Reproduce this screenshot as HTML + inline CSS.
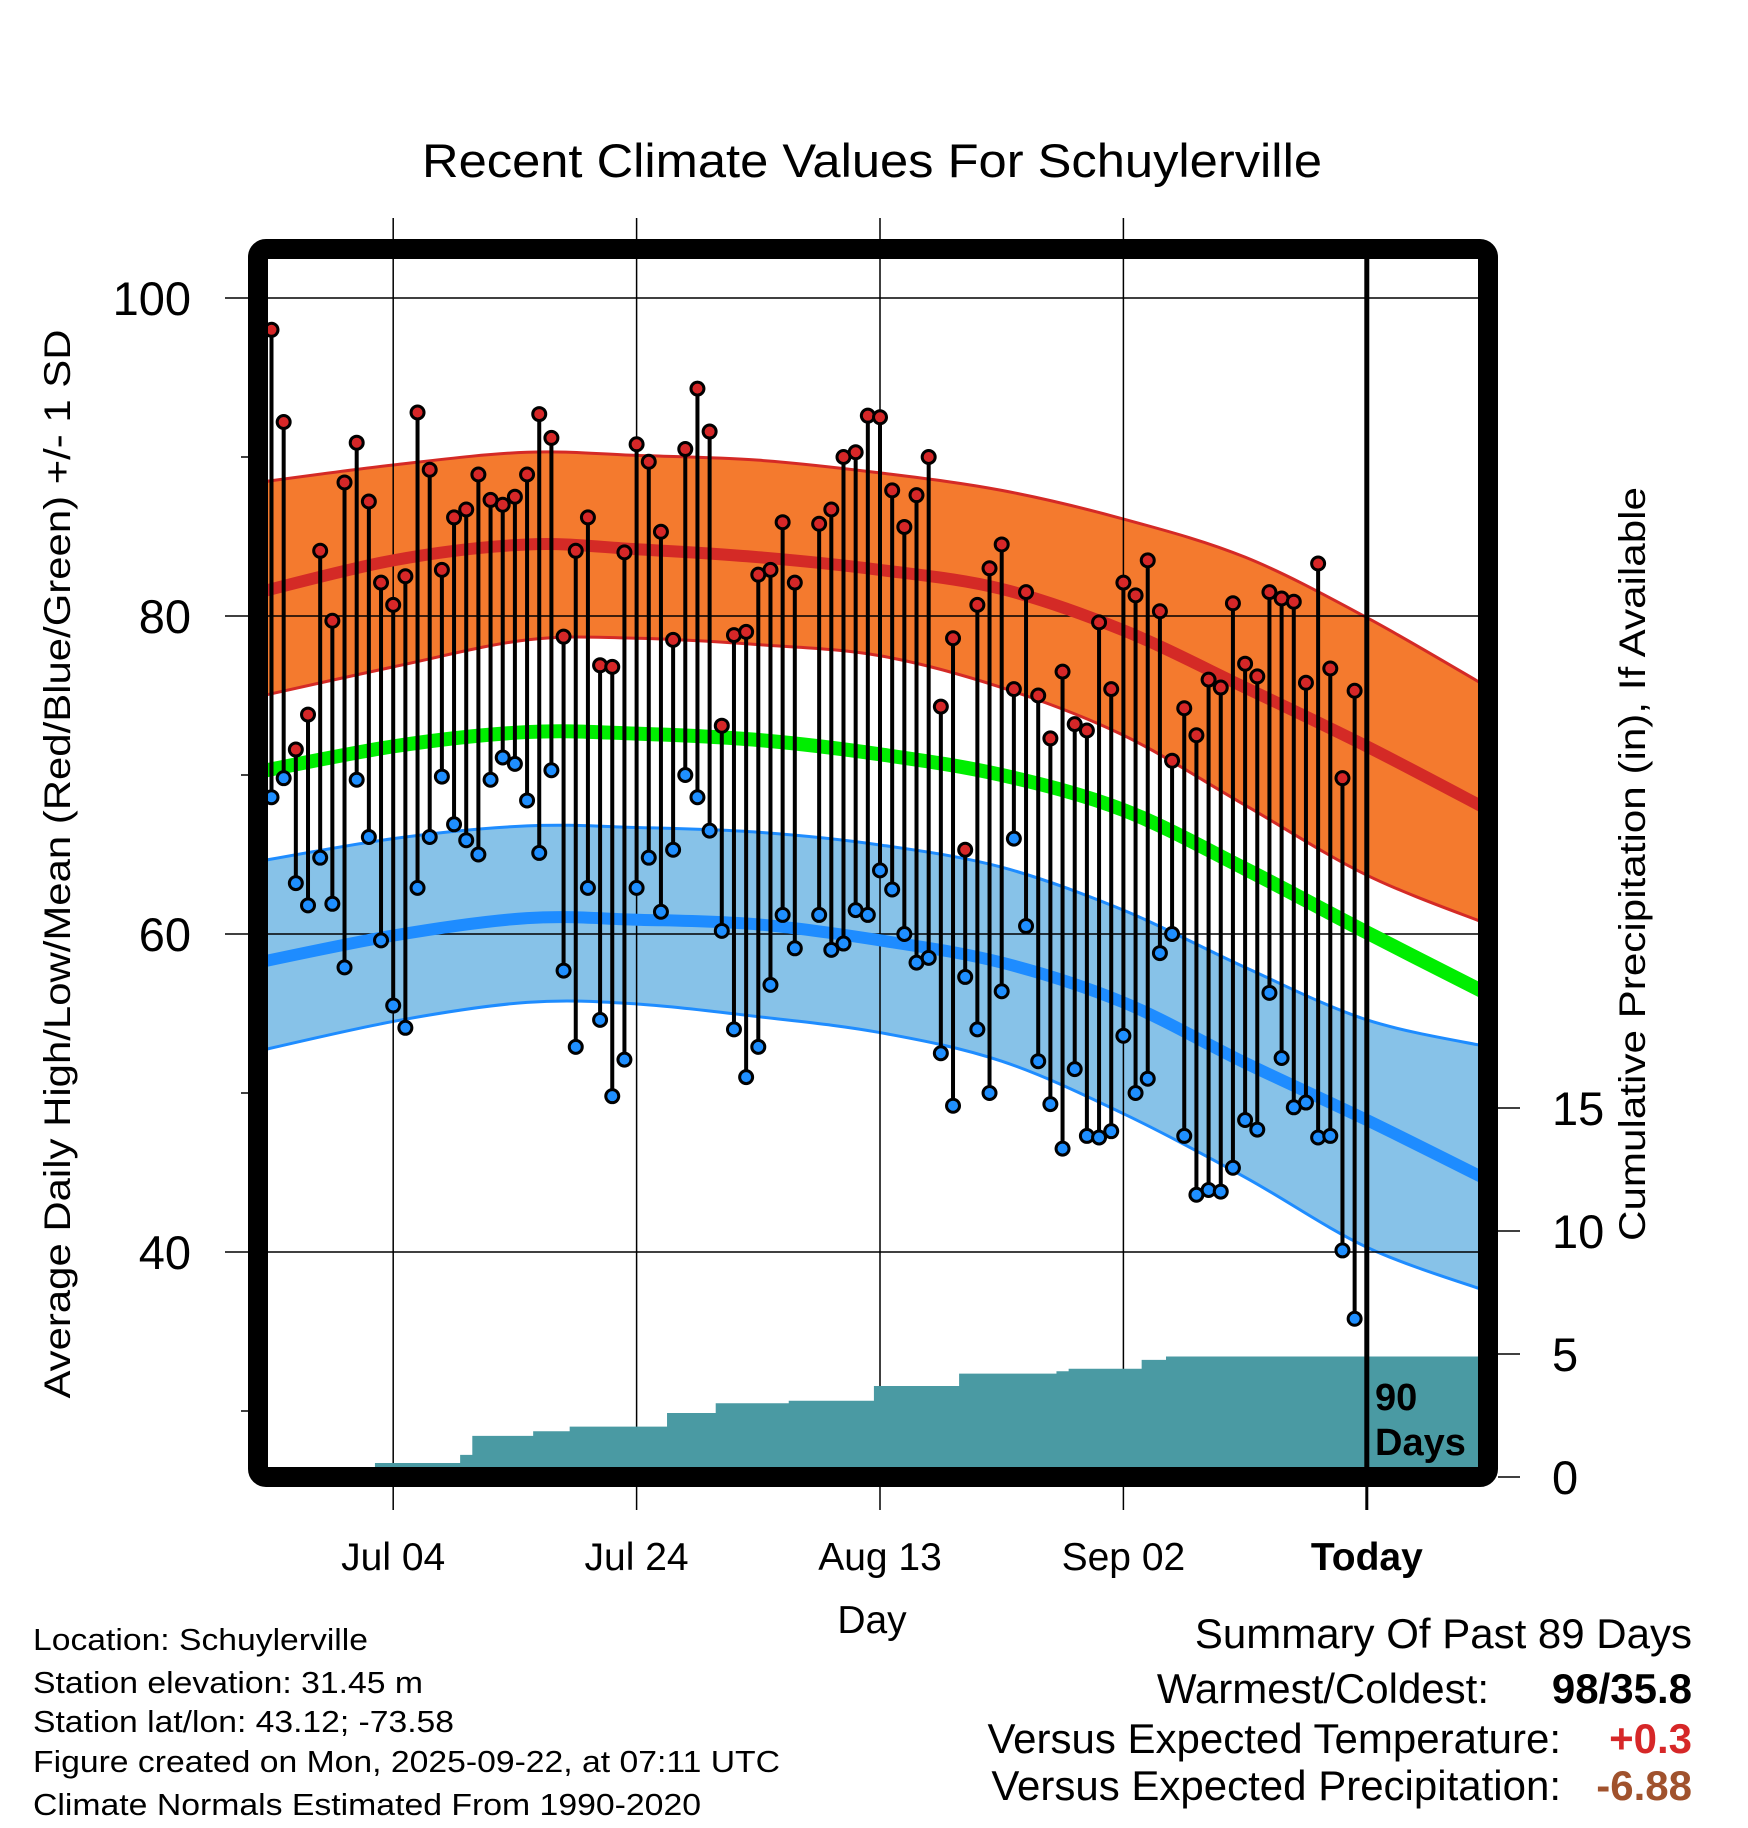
<!DOCTYPE html>
<html><head><meta charset="utf-8"><style>
html,body{margin:0;padding:0;background:#fff}
svg{display:block}
text{font-family:"Liberation Sans",sans-serif}
</style></head><body>
<svg id="chart" width="1748" height="1828" viewBox="0 0 1748 1828" xmlns="http://www.w3.org/2000/svg">
<defs><clipPath id="plotclip"><rect x="268" y="259" width="1210" height="1208"/></clipPath></defs>
<text x="872" y="177" font-size="47" text-anchor="middle" textLength="900" lengthAdjust="spacingAndGlyphs">Recent Climate Values For Schuylerville</text>
<g id="plot" clip-path="url(#plotclip)"></g>
<g id="axes"></g>
<rect x="258" y="249" width="1230" height="1228" rx="8" fill="none" stroke="#000" stroke-width="20"/>
<text x="70" y="864" font-size="37" text-anchor="middle" transform="rotate(-90 70 864)" textLength="1069" lengthAdjust="spacingAndGlyphs">Average Daily High/Low/Mean (Red/Blue/Green) +/- 1 SD</text>
<text x="1645" y="864" font-size="37" text-anchor="middle" transform="rotate(-90 1645 864)" textLength="754" lengthAdjust="spacingAndGlyphs">Cumulative Precipitation (in), If Available</text>
<text x="872" y="1633" font-size="39" text-anchor="middle">Day</text>
<text x="1375" y="1410" font-size="38" font-weight="bold">90</text>
<text x="1375" y="1455" font-size="38" font-weight="bold">Days</text>
<g font-size="31">
<text x="33" y="1650" textLength="335" lengthAdjust="spacingAndGlyphs">Location: Schuylerville</text>
<text x="33" y="1693" textLength="390" lengthAdjust="spacingAndGlyphs">Station elevation: 31.45 m</text>
<text x="33" y="1732" textLength="421" lengthAdjust="spacingAndGlyphs">Station lat/lon: 43.12; -73.58</text>
<text x="33" y="1772" textLength="747" lengthAdjust="spacingAndGlyphs">Figure created on Mon, 2025-09-22, at 07:11 UTC</text>
<text x="33" y="1815" textLength="668" lengthAdjust="spacingAndGlyphs">Climate Normals Estimated From 1990-2020</text>
</g>
<g font-size="42" text-anchor="end">
<text x="1692" y="1648">Summary Of Past 89 Days</text>
<text x="1489" y="1703">Warmest/Coldest:</text>
<text x="1692" y="1703" font-weight="bold">98/35.8</text>
<text x="1561" y="1753">Versus Expected Temperature:</text>
<text x="1692" y="1753" font-weight="bold" fill="#d62728">+0.3</text>
<text x="1561" y="1800">Versus Expected Precipitation:</text>
<text x="1692" y="1800" font-weight="bold" fill="#a0522d">-6.88</text>
</g>
</svg>
<script>
const highs=[98,92.2,71.6,73.8,84.1,79.7,88.4,90.9,87.2,82.1,80.7,82.5,92.8,89.2,82.9,86.2,86.7,88.9,87.3,87.0,87.5,88.9,92.7,91.2,78.7,84.1,86.2,76.9,76.8,84.0,90.8,89.7,85.3,78.5,90.5,94.3,91.6,73.1,78.8,79.0,82.6,82.9,85.9,82.1,null,85.8,86.7,90.0,90.3,92.6,92.5,87.9,85.6,87.6,90.0,74.3,78.6,65.3,80.7,83.0,84.5,75.4,81.5,75.0,72.3,76.5,73.2,72.8,79.6,75.4,82.1,81.3,83.5,80.3,70.9,74.2,72.5,76.0,75.5,80.8,77.0,76.2,81.5,81.1,80.9,75.8,83.3,76.7,69.8,75.3];
const lows=[68.6,69.8,63.2,61.8,64.8,61.9,57.9,69.7,66.1,59.6,55.5,54.1,62.9,66.1,69.9,66.9,65.9,65.0,69.7,71.1,70.7,68.4,65.1,70.3,57.7,52.9,62.9,54.6,49.8,52.1,62.9,64.8,61.4,65.3,70.0,68.6,66.5,60.2,54.0,51.0,52.9,56.8,61.2,59.1,null,61.2,59.0,59.4,61.5,61.2,64.0,62.8,60.0,58.2,58.5,52.5,49.2,57.3,54.0,50.0,56.4,66.0,60.5,52.0,49.3,46.5,51.5,47.3,47.2,47.6,53.6,50.0,50.9,58.8,60.0,47.3,43.6,43.9,43.8,45.3,48.3,47.7,56.3,52.2,49.1,49.4,47.2,47.3,40.1,35.8];
const normDays=[-3,10,21,30,40,50,60,70,80,90,100];
const normHigh=[81.1,83.5,84.5,84.2,83.7,82.9,81.7,79.1,75.5,71.8,67.8];
const normHighUp=[88.2,89.5,90.3,90.1,89.8,89.0,87.9,86.1,83.7,79.9,75.5];
const normHighLo=[74.6,76.8,78.5,78.6,78.2,77.5,75.5,72.5,68.1,63.7,60.6];
const normMean=[69.9,71.8,72.7,72.6,72.2,71.3,70.0,67.8,64.1,60.1,56.2];
const normLow=[57.9,59.9,61.0,60.9,60.6,59.6,58.2,55.7,51.9,48.3,44.5];
const normLowUp=[64.3,66.0,66.8,66.7,66.4,65.6,64.2,61.5,57.9,54.6,52.9];
const normLowLo=[52.3,54.5,55.7,55.6,54.8,53.8,52.0,48.7,44.7,40.3,37.5];
const precipDays=[9,16,17,22,25,33,37,43,50,57,65,66,72,74];
const precipAmounts=[0.57,0.33,0.77,0.19,0.19,0.55,0.4,0.1,0.6,0.5,0.1,0.1,0.36,0.14];
const xTickDays=[10,30,50,70,90];
const xTickLabels=["Jul 04","Jul 24","Aug 13","Sep 02","Today"];
const yTicks=[100,80,60,40];
const yMinor=[90,70,50,30];
const pTicks=[0,5,10,15];

const NS="http://www.w3.org/2000/svg";
const X=d=>271.5+12.17*d;
const Y=v=>298+(100-v)*15.9;
const YP=v=>1477-v*24.6;
const plot=document.getElementById('plot'), axes=document.getElementById('axes');
function mk(tag,attrs,parent){const e=document.createElementNS(NS,tag);for(const k in attrs)e.setAttribute(k,attrs[k]);parent.appendChild(e);return e;}
function pts(arr){return normDays.map((d,i)=>[X(d),Y(arr[i])]);}
function curve(p,move=true){let s=move?`M${p[0][0]},${p[0][1]}`:`L${p[0][0]},${p[0][1]}`;
 for(let i=0;i<p.length-1;i++){const p0=p[i-1]||p[i],p1=p[i],p2=p[i+1],p3=p[i+2]||p2;
  s+=` C${p1[0]+(p2[0]-p0[0])/6},${p1[1]+(p2[1]-p0[1])/6} ${p2[0]-(p3[0]-p1[0])/6},${p2[1]-(p3[1]-p1[1])/6} ${p2[0]},${p2[1]}`;}return s;}
function band(up,lo,fill,edge,name){
 const a=pts(up),b=pts(lo).reverse();
 let e=mk('path',{d:curve(a)+' '+curve(b,false)+' Z',fill:fill},plot);
 
 
 [a,pts(lo)].forEach((p,i)=>{let l=mk('path',{d:curve(p),fill:'none',stroke:edge,'stroke-width':3},plot);
  
  });
}
band(normHighUp,normHighLo,'#f47a2e','#d42a26','normal-high');
band(normLowUp,normLowLo,'#87c2e8','#1e8cff','normal-low');
yTicks.forEach(v=>{let l=mk('line',{x1:268,x2:1478,y1:Y(v),y2:Y(v),stroke:'#000','stroke-width':1.5},plot);
 
 });
xTickDays.slice(0,4).forEach(d=>{let l=mk('line',{x1:X(d),x2:X(d),y1:259,y2:1467,stroke:'#000','stroke-width':1.5},plot);
 
 });
[[normMean,'#00ee00',14,'normal-mean-line'],[normHigh,'#d42a26',12,'normal-high-line'],[normLow,'#1e8cff',12,'normal-low-line']].forEach(([arr,c,w,n])=>{
 let l=mk('path',{d:curve(pts(arr)),fill:'none',stroke:c,'stroke-width':w},plot);
 
 });
let cum=0,pd=`M${X(-4)},1467 L${X(-4)},${YP(0)}`;
for(let d=0;d<=100;d++){const i=precipDays.indexOf(d);if(i>=0){pd+=` L${X(d-0.5)},${YP(cum)}`;cum+=precipAmounts[i];pd+=` L${X(d-0.5)},${YP(cum)}`;}}
pd+=` L${X(101)},${YP(cum)} L${X(101)},1467 Z`;
let pa=mk('path',{d:pd,fill:'#4a9aa3'},plot);


highs.forEach((h,d)=>{const l=lows[d];if(h==null||l==null)return;
 let s=mk('line',{x1:X(d),x2:X(d),y1:Y(h),y2:Y(l),stroke:'#000','stroke-width':4},plot);
 
 
 let a=mk('circle',{cx:X(d),cy:Y(h),r:6.5,fill:'#d62728',stroke:'#000','stroke-width':3},plot);
 
 
 let b=mk('circle',{cx:X(d),cy:Y(l),r:6.5,fill:'#1f8fff',stroke:'#000','stroke-width':3},plot);
 
 
});
let tl=mk('line',{x1:X(90),x2:X(90),y1:259,y2:1467,stroke:'#000','stroke-width':5},plot);


yTicks.forEach(v=>{let l=mk('line',{x1:225,x2:268,y1:Y(v),y2:Y(v),stroke:'#000','stroke-width':1.5},axes);
 
 
 let t=mk('text',{x:191,y:Y(v)+17,'font-size':47,'text-anchor':'end'},axes);t.textContent=v;
 
 });
yMinor.forEach(v=>{let l=mk('line',{x1:241,x2:258,y1:Y(v),y2:Y(v),stroke:'#000','stroke-width':1.5},axes);
 
 });
pTicks.forEach(v=>{let l=mk('line',{x1:1498,x2:1520,y1:YP(v),y2:YP(v),stroke:'#000','stroke-width':1.5},axes);
 
 
 let t=mk('text',{x:1552,y:YP(v)+17,'font-size':47},axes);t.textContent=v;
 
 });
xTickDays.forEach((d,i)=>{
 if(i<4){let g=mk('line',{x1:X(d),x2:X(d),y1:218,y2:249,stroke:'#000','stroke-width':1.5},axes);
  
  }
 let l=mk('line',{x1:X(d),x2:X(d),y1:1487,y2:1510,stroke:'#000','stroke-width':i==4?3:1.5},axes);
 
 
 let t=mk('text',{x:X(d),y:1570,'font-size':39,'text-anchor':'middle','font-weight':i==4?'bold':'normal'},axes);t.textContent=xTickLabels[i];
 
 });
</script>
</body></html>
